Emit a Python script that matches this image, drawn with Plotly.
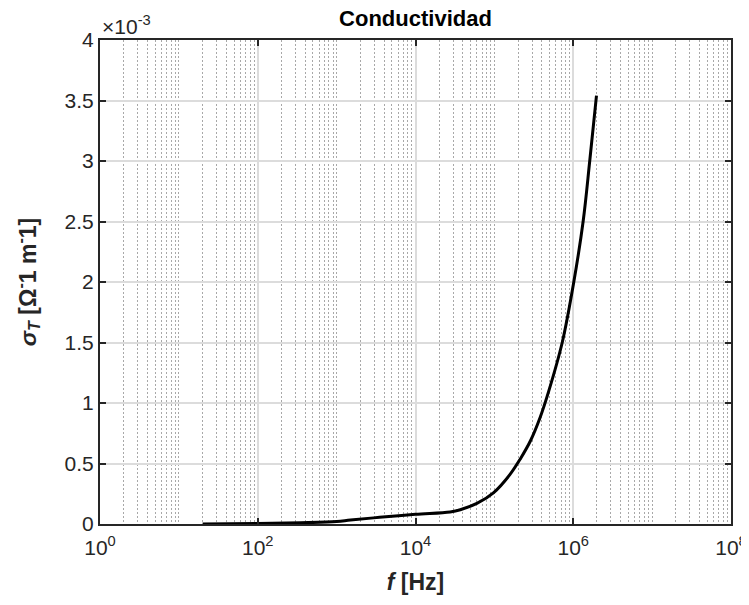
import plotly.graph_objects as go

# conductivity curve
freq_hz = [20, 100, 350, 1000, 1500, 3500, 10000, 27500, 37000, 60000,
           98000, 158000, 214000, 288000, 380000, 490000, 725000,
           1016000, 1334000, 1618000, 1970000]
sigma_t = [0.0, 0.000004, 0.000010, 0.000020, 0.000033, 0.000055,
           0.000080, 0.000100, 0.000118, 0.000170, 0.000260, 0.000410,
           0.000540, 0.000690, 0.000880, 0.001100, 0.001500, 0.002000,
           0.002500, 0.003000, 0.003540]

x_tickvals = [1, 1e2, 1e4, 1e6, 1e8]
x_ticktext = ['10<sup>0</sup>', '10<sup>2</sup>', '10<sup>4</sup>',
              '10<sup>6</sup>', '10<sup>8</sup>']
y_tickvals = [0, 0.0005, 0.001, 0.0015, 0.002, 0.0025, 0.003, 0.0035, 0.004]
y_ticktext = ['0', '0.5', '1', '1.5', '2', '2.5', '3', '3.5', '4']

TEXT = '#262626'
FONT = 'Liberation Sans, Arial, sans-serif'

# every 1..9 x 10^k that is not already a major tick
minor_vals = [m * 10 ** k for k in range(0, 8) for m in range(1, 10)
              if not (m == 1 and k % 2 == 0)]

fig = go.Figure()
fig.add_trace(go.Scatter(
    x=freq_hz,
    y=sigma_t,
    mode='lines',
    line={'color': 'black', 'width': 3, 'shape': 'spline', 'smoothing': 1.0},
    showlegend=False,
))

axis_common = {
    'showline': True,
    'linecolor': TEXT,
    'linewidth': 2,
    'mirror': 'ticks',
    'ticks': 'inside',
    'ticklen': 6,
    'tickwidth': 1.5,
    'tickcolor': TEXT,
    'zeroline': False,
    'tickfont': {'size': 21, 'color': TEXT, 'family': FONT},
}

fig.update_xaxes(
    type='log',
    range=[0, 8],
    tickmode='array',
    tickvals=x_tickvals,
    ticktext=x_ticktext,
    ticklabelstandoff=4,
    showgrid=True,
    gridcolor='#dcdcdc',
    gridwidth=2,
    minor={
        'tickmode': 'array',
        'tickvals': minor_vals,
        'showgrid': True,
        'gridcolor': '#a8a8a8',
        'griddash': '2px,2px',
        'gridwidth': 1,
        'ticks': '',
    },
    title={
        'text': '<b><i>f</i> [Hz]</b>',
        'font': {'size': 23, 'color': TEXT, 'family': FONT},
        'standoff': 16,
    },
    **axis_common,
)
fig.update_yaxes(
    range=[0, 0.004],
    tickmode='array',
    tickvals=y_tickvals,
    ticktext=y_ticktext,
    showgrid=True,
    gridcolor='#dcdcdc',
    gridwidth=2,
    title={
        'text': '<b><i>σ</i><sub><i>T</i></sub> [Ω<sup>-</sup>1 m<sup>-</sup>1]</b>',
        'font': {'size': 23, 'color': TEXT, 'family': FONT},
        'standoff': 22,
    },
    **axis_common,
)

fig.add_annotation(
    text='×10<sup>-3</sup>',
    xref='paper', yref='paper',
    x=0, y=1.0,
    xanchor='left', yanchor='bottom',
    showarrow=False,
    font={'size': 21, 'color': TEXT, 'family': FONT},
)

# page body adds an 8px margin, so the figure is sized to fit inside it
fig.update_layout(
    width=741,
    height=597,
    margin={'l': 92, 'r': 18, 't': 32, 'b': 81, 'autoexpand': False},
    plot_bgcolor='white',
    paper_bgcolor='white',
    font={'family': FONT, 'color': TEXT},
    title={
        'text': '<b>Conductividad</b>',
        'x': 0.5, 'xref': 'paper', 'xanchor': 'center',
        'y': 0.983, 'yref': 'container', 'yanchor': 'middle',
        'font': {'size': 22, 'color': 'black', 'family': FONT},
    },
)

fig.write_html("out.html")
